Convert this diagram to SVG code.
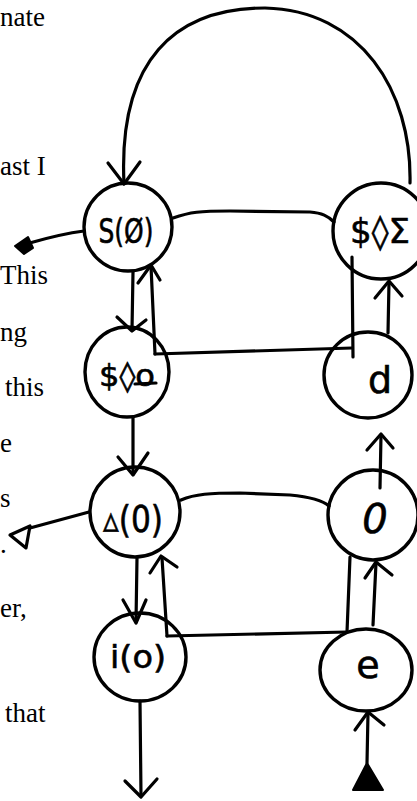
<svg xmlns="http://www.w3.org/2000/svg" width="417" height="801" viewBox="0 0 417 801">
<style>
.ln{fill:none;stroke:#000;stroke-width:3.2;stroke-linecap:round;stroke-linejoin:round}
.nd{fill:none;stroke:#000;stroke-width:3.4}
.lb{font-family:"DejaVu Sans","Liberation Sans",sans-serif;fill:#000;stroke:#000;stroke-width:0.6;text-anchor:middle}
.tx{font-family:"Liberation Serif","Times New Roman",serif;font-size:27px;fill:#000}
</style>
<rect width="417" height="801" fill="#fff"/>
<g id="paragraph">
<text class="tx" x="0" y="26">nate</text>
<text class="tx" x="0" y="175">ast I</text>
<text class="tx" x="0" y="284">This</text>
<text class="tx" x="0" y="341">ng</text>
<text class="tx" x="5" y="396">this</text>
<text class="tx" x="0" y="452">e</text>
<text class="tx" x="0" y="507" font-size="14">s</text>
<text class="tx" x="0" y="553" font-size="14">.</text>
<text class="tx" x="0" y="617">er,</text>
<text class="tx" x="5" y="722">that</text>
</g>
<g id="connectors">
<path class="ln" d="M410 183 C412 90 360 10 265 8 C175 8 118 60 124 184"/>
<path class="ln" d="M108 163 L124 184 L140 162"/>
<path class="ln" d="M84 231 C60 234 40 240 26 244"/>
<path d="M15 246 L28 237 L33 248 L24 254 Z" fill="#000" stroke="#000" stroke-width="2" stroke-linejoin="round"/>
<path class="ln" d="M173 218 C190 212 200 211 230 211 L310 212 C322 213 328 216 334 222"/>
<path class="ln" d="M133 272 L132 330"/>
<path class="ln" d="M117 317 L132 331 L146 320"/>
<path class="ln" d="M155 354 L151 266"/>
<path class="ln" d="M138 283 L151 265 L160 280"/>
<path class="ln" d="M155 354 L352 348"/>
<path class="ln" d="M353 357 L352 257"/>
<path class="ln" d="M388 333 L389 282"/>
<path class="ln" d="M375 298 L389 281 L402 296"/>
<path class="ln" d="M380 488 L381 435"/>
<path class="ln" d="M367 450 L381 434 L393 448"/>
<path class="ln" d="M181 500 C195 494 210 493 240 493 L290 495 C310 497 322 500 329 506"/>
<path class="ln" d="M89 512 L30 528"/>
<path class="ln" d="M10 535 L30 526 L26 548 Z"/>
<path class="ln" d="M133 417 L133 474"/>
<path class="ln" d="M118 457 L133 475 L148 453"/>
<path class="ln" d="M137 558 L136 622"/>
<path class="ln" d="M123 600 L136 623 L146 600"/>
<path class="ln" d="M167 636 L162 558"/>
<path class="ln" d="M150 573 L161 556 L177 567"/>
<path class="ln" d="M167 636 L347 632"/>
<path class="ln" d="M347 632 L350 557"/>
<path class="ln" d="M373 625 L376 563"/>
<path class="ln" d="M365 578 L376 562 L392 575"/>
<path class="ln" d="M367 763 L368 713"/>
<path class="ln" d="M355 730 L368 712 L384 725"/>
<path d="M353 790 L367 763 L383 790 Z" fill="#000" stroke="#000" stroke-width="2" stroke-linejoin="round"/>
<path class="ln" d="M140 701 L141 796"/>
<path class="ln" d="M125 781 L141 797 L157 779"/>
</g>
<g id="n-s0">
<ellipse class="nd" cx="128" cy="227" rx="44" ry="44"/>
<text class="lb" x="126" y="243" font-size="34" textLength="55" lengthAdjust="spacingAndGlyphs">S(Ø)</text>
</g>
<g id="n-so">
<ellipse class="nd" cx="127" cy="372" rx="42" ry="45"/>
<text class="lb" x="127" y="386" font-size="30" textLength="56" lengthAdjust="spacingAndGlyphs">$◊o</text>
<path class="ln" d="M135 384 L156 383"/>
</g>
<g id="n-sE">
<ellipse class="nd" cx="381" cy="231" rx="48" ry="48"/>
<text class="lb" x="350" y="243" font-size="34" style="text-anchor:start">$◊Σ</text>
</g>
<g id="n-d0">
<ellipse class="nd" cx="135" cy="512" rx="45" ry="45"/>
<text class="lb" x="133" y="532" font-size="38" textLength="60" lengthAdjust="spacingAndGlyphs">▵(0)</text>
</g>
<g id="n-io">
<ellipse class="nd" cx="140" cy="657" rx="46" ry="44"/>
<text class="lb" x="138" y="668" font-size="32" textLength="56" lengthAdjust="spacingAndGlyphs">i(o)</text>
</g>
<g id="n-d">
<ellipse class="nd" cx="368" cy="375" rx="44" ry="43"/>
<text class="lb" x="380" y="393" font-size="38">d</text>
</g>
<g id="n-0">
<ellipse class="nd" cx="373" cy="515" rx="45" ry="45"/>
<text class="lb" x="375" y="533" font-size="40" font-style="italic">0</text>
</g>
<g id="n-e">
<ellipse class="nd" cx="366" cy="670" rx="46" ry="41"/>
<text class="lb" x="368" y="678" font-size="38">e</text>
</g>
</svg>
